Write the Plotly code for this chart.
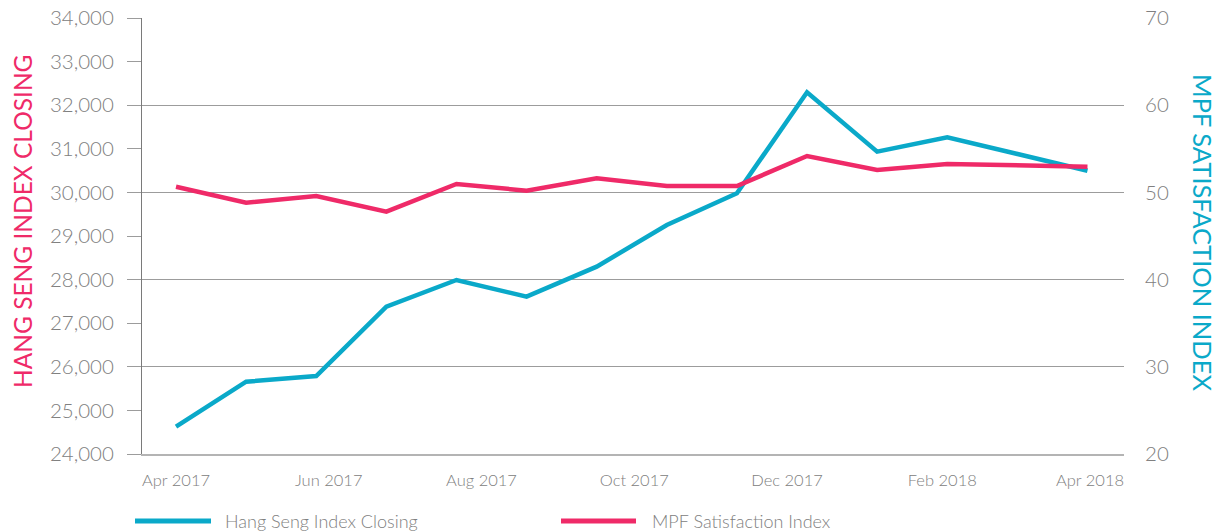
import plotly.graph_objects as go

# ---- data ----
dates = ["2017-04-01", "2017-04-29", "2017-05-27", "2017-06-24", "2017-07-22",
         "2017-08-19", "2017-09-16", "2017-10-14", "2017-11-11", "2017-12-09",
         "2018-01-06", "2018-02-03", "2018-03-31"]
hang_seng = [24626, 25658, 25789, 27379, 27991, 27608, 28296, 29252, 29979,
             32296, 30934, 31263, 30498]
mpf_index = [50.65, 48.82, 49.59, 47.79, 50.96, 50.20, 51.61, 50.73, 50.73,
             54.17, 52.57, 53.26, 52.95]
left_ticks = list(range(24000, 34001, 1000))
right_ticks = list(range(20, 71, 10))
series_names = ["Hang Seng Index Closing", "MPF Satisfaction Index"]
left_title = "HANG SENG INDEX CLOSING"
right_title = "MPF SATISFACTION INDEX"

BLUE = "#0aa9c9"
PINK = "#ef2a68"
GRAY_TXT = "#808080"
GRID = "#9c9c9c"
FONT = "Lato"

W, H = 1223, 531
L, R, T, B = 142, 99, 18, 77
PW = W - L - R
PH = H - T - B


def px_x(px):
    return (px - L) / PW


def px_y(py):
    return (H - B - py) / PH


fig = go.Figure()
fig.add_trace(go.Scatter(x=dates, y=hang_seng, mode="lines", name=series_names[0],
                         line=dict(color=BLUE, width=4.5), yaxis="y",
                         showlegend=False))
fig.add_trace(go.Scatter(x=dates, y=mpf_index, mode="lines", name=series_names[1],
                         line=dict(color=PINK, width=4.5), yaxis="y2",
                         showlegend=False))

fig.update_layout(
    width=W, height=H, autosize=False,
    margin=dict(l=L, r=R, t=T, b=B, pad=0, autoexpand=False),
    paper_bgcolor="white", plot_bgcolor="white",
    font=dict(family=FONT, color=GRAY_TXT, weight=300),
    xaxis=dict(
        type="date", automargin=False,
        range=["2017-03-18 10:00", "2018-04-14 14:00"],
        tick0="2017-04-01", dtick="M2", tickformat="%b %Y",
        showgrid=False, zeroline=False,
        showline=True, linecolor="#b4b4b4", linewidth=2,
        ticks="", ticklabelstandoff=10,
        tickfont=dict(size=16.5, color=GRAY_TXT, family=FONT, weight=300),
    ),
    yaxis=dict(
        automargin=False,
        range=[24000, 34000], tickvals=left_ticks,
        tickformat=",d",
        showgrid=False, zeroline=False,
        showline=True, linecolor="#7a7a7a", linewidth=1,
        ticks="outside", ticklen=14, tickcolor=GRID, tickwidth=1,
        ticklabelstandoff=9,
        tickfont=dict(size=20.5, color=GRAY_TXT, family=FONT, weight=300),
    ),
    yaxis2=dict(
        automargin=False,
        range=[20, 70], tickvals=right_ticks,
        overlaying="y", side="right",
        showgrid=True, gridcolor=GRID, gridwidth=1,
        zeroline=False, showline=False, ticks="",
        ticklabelstandoff=20,
        tickfont=dict(size=20.5, color=GRAY_TXT, family=FONT, weight=300),
    ),
)

# axis titles
fig.add_annotation(text=left_title, xref="paper", yref="paper",
                   x=px_x(22), y=px_y(221), textangle=-90, showarrow=False,
                   xanchor="center", yanchor="middle",
                   font=dict(size=24.5, color=PINK, family=FONT, weight=400))
fig.add_annotation(text=right_title, xref="paper", yref="paper",
                   x=px_x(1203), y=px_y(232), textangle=90, showarrow=False,
                   xanchor="center", yanchor="middle",
                   font=dict(size=25.5, color=BLUE, family=FONT, weight=400))

# custom legend
leg_y = px_y(521)
for (x0, x1, tx, name, col) in [(135, 211, 223, series_names[0], BLUE),
                                (561, 636, 650, series_names[1], PINK)]:
    fig.add_shape(type="line", xref="paper", yref="paper",
                  x0=px_x(x0), x1=px_x(x1), y0=leg_y, y1=leg_y,
                  line=dict(color=col, width=5), layer="above")
    fig.add_annotation(text=name, xref="paper", yref="paper",
                       x=px_x(tx), y=leg_y, showarrow=False,
                       xanchor="left", yanchor="middle",
                       font=dict(size=18, color=GRAY_TXT, family=FONT, weight=300))

fig.write_html("out.html", config={"displayModeBar": False},
               post_script="document.body.style.margin='0';document.body.style.overflow='hidden';")
